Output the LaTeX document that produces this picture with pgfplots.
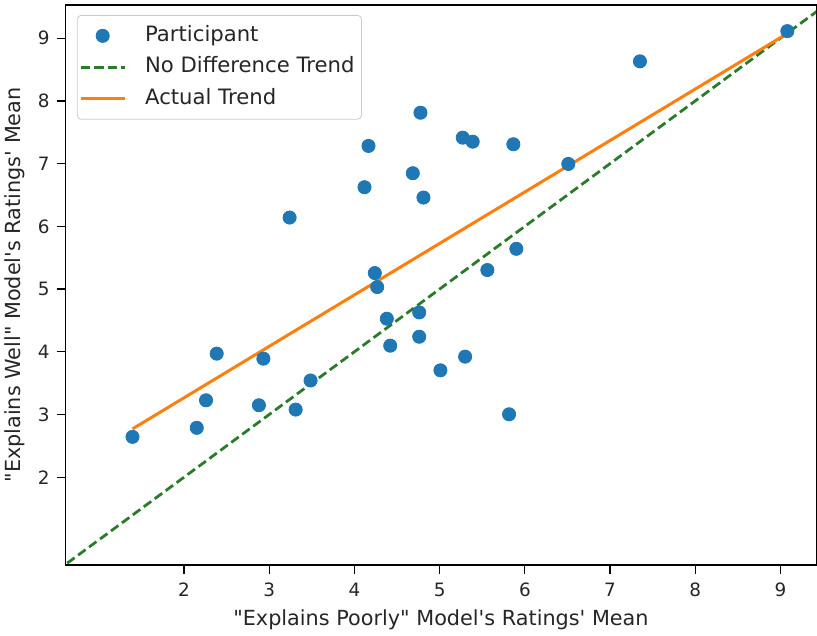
\documentclass[border=0pt]{standalone}
\usepackage{pgfplots}
\pgfplotsset{compat=1.18}
\usepackage{fontspec}
\setmainfont{DejaVu Sans}[Ligatures=TeXOff]
\definecolor{mblue}{HTML}{1F77B4}
\definecolor{morange}{HTML}{FF7F0E}
\definecolor{mgreen}{HTML}{2A7B2A}
\begin{document}
\begin{tikzpicture}
\begin{axis}[
  at={(0,0)}, anchor=south west,
  scale only axis, width=375.7pt, height=280.3pt,
  xmin=0.61, xmax=9.42, ymin=0.60, ymax=9.53,
  xtick={2,3,4,5,6,7,8,9}, ytick={2,3,4,5,6,7,8,9},
  tick pos=left, tick align=outside, major tick length=4.5pt,
  /pgf/number format/assume math mode=true,
  ticklabel style={font=\fontsize{9.2}{11}\selectfont, text=black!85},
  xticklabel style={yshift=-1pt},
  axis line style={line width=0.7pt},
  every tick/.style={black, line width=0.6pt},
  xlabel={"Explains Poorly" Model's Ratings' Mean},
  ylabel={"Explains Well" Model's Ratings' Mean},
  label style={font=\fontsize{10.4}{12}\selectfont, text=black!85},
  xlabel style={at={(axis description cs:0.5,-0.0974)}, anchor=center},
  ylabel style={at={(axis description cs:-0.0673,0.5)}, anchor=center},
  legend cell align=left,
  legend style={at={(axis description cs:0,1)}, anchor=north west, xshift=5.6pt, yshift=-5pt,
    draw=black!20, rounded corners=2pt, font=\fontsize{10.6}{12}\selectfont,
    inner xsep=1pt, inner ysep=3pt, row sep=1.25pt, column sep=7pt,
    nodes={inner xsep=2.5pt, inner ysep=2pt, text height=8pt, text depth=2.5pt, text=black!85}},
  legend image code/.code={\draw[mark repeat=2,mark phase=2,#1] plot coordinates {(0pt,0pt) (11pt,0pt) (22pt,0pt)};},
  clip=true,
]
\addplot[only marks, mark=*, mark size=3.3pt, color=mblue, mark options={draw=mblue, fill=mblue}] coordinates {
(1.395,2.643) (2.149,2.787) (2.258,3.226) (2.383,3.970) (2.879,3.147) (2.931,3.890)
(3.239,6.140) (3.310,3.078) (3.485,3.542) (4.118,6.624) (4.165,7.282) (4.239,5.255)
(4.267,5.032) (4.380,4.527) (4.420,4.097) (4.685,6.847) (4.760,4.627) (4.760,4.240)
(4.775,7.812) (4.810,6.459) (5.009,3.704) (5.271,7.414) (5.299,3.922) (5.388,7.350)
(5.560,5.303) (5.815,3.003) (5.865,7.309) (5.900,5.642) (6.510,6.995) (7.351,8.631)
(9.081,9.113)
};
\addlegendentry{Participant}
\addplot[color=mgreen, line width=1.4pt, dash pattern=on 4.6pt off 2.2pt] coordinates {(0.5,0.5) (9.6,9.6)};
\addlegendentry{No Difference Trend}
\addplot[color=morange, line width=1.5pt] coordinates {(1.395,2.770) (9.081,9.076)};
\addlegendentry{Actual Trend}
\end{axis}
\pgfresetboundingbox
\path (-32.85pt,-35.15pt) rectangle (376.1pt,282.8pt);
\end{tikzpicture}
\end{document}
